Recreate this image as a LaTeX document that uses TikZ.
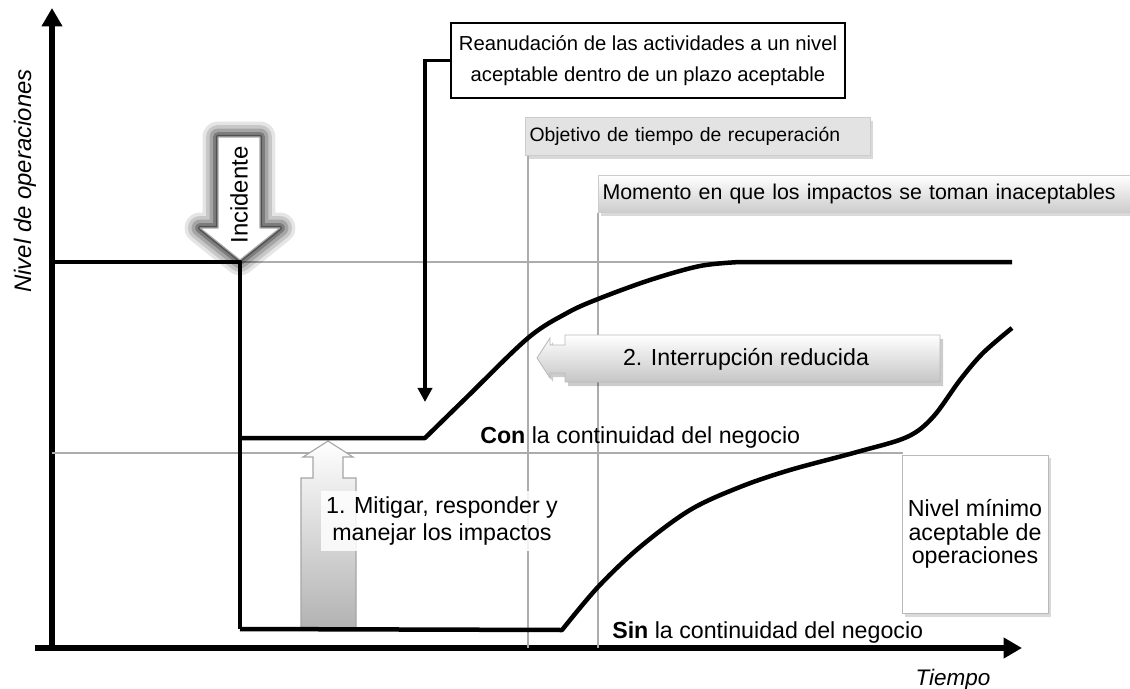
\documentclass[tikz,border=0pt]{standalone}
\usepackage{fontspec}
\setmainfont{Liberation Sans}
\usetikzlibrary{positioning,arrows.meta,calc,shadows}

\begin{document}
\begin{tikzpicture}[
  x=0.025cm, y=-0.025cm,
  axis/.style={line width=4.5pt, -{Triangle[length=13pt,width=14pt]}},
  level/.style={line width=3.2pt, line join=round},
  guide/.style={gray!65, line width=1.3pt},
  lbl/.style={font=\fontsize{16.5}{19}\selectfont, inner sep=0pt},
  softshadow/.style={drop shadow={shadow xshift=2pt, shadow yshift=-2.5pt, opacity=0.3}},
]
  \useasboundingbox (0,0) rectangle (1130,689);

  % --- axes ---
  \coordinate (o) at (52,651);
  \coordinate (ytop) at (52,8);
  \coordinate (xleft) at (35,648);
  \coordinate (xright) at (1022,648);
  \draw[axis] (o) -- (ytop);
  \draw[axis] (xleft) -- (xright);
  \node[lbl, font=\fontsize{17}{19}\selectfont\itshape, rotate=90] (ylab) at (25,181) {Nivel de operaciones};
  \node[lbl, font=\fontsize{16}{19}\selectfont\itshape] (xlab) at (953,680) {Tiempo};

  % --- labels on top ---
  \node[draw, line width=1pt, fill=white, minimum width=9.85cm, minimum height=1.875cm,
        align=center, font=\fontsize{14.4}{22}\selectfont] (reanud) at (648,60.5)
    {Reanudación de las actividades a un nivel\\aceptable dentro de un plazo aceptable};
  \node[anchor=north west, fill=gray!22, draw=gray!40, softshadow, minimum height=0.95cm,
        text width=8.41cm, align=left, inner xsep=3pt, font=\fontsize{13.8}{16}\selectfont] (objetivo) at (525,117)
    {Objetivo de tiempo de recuperación};
  \node[anchor=north west, top color=white, bottom color=gray!40, draw=gray!40, softshadow, minimum height=0.925cm,
        text width=14cm, align=left, inner xsep=3pt, font=\fontsize{15.2}{18}\selectfont] (momento) at (598,175)
    {Momento en que los impactos se toman inaceptables};

  % --- guides ---
  \coordinate (normal) at (240,262);
  \coordinate (normalend) at (1012,262);
  \coordinate (minlevel) at (52,453);
  \draw[guide] (normal) -- (normalend);
  \draw[guide] (minlevel) -- (903,453);
  \draw[guide] (objetivo.south west -| 528,0) -- (528,648);
  \draw[guide] (momento.south west) -- (598,648);

  % --- minimum level box ---
  \node[draw=gray!55, fill=white, softshadow, minimum width=3.65cm, minimum height=3.95cm,
        align=center, font=\fontsize{16.5}{16.5}\selectfont] (minimo) at (975,534)
    {Nivel mínimo\\aceptable de\\operaciones};

  % --- incident ---
  \foreach \w/\op in {22/0.1,17/0.13,12/0.17,7/0.25,3/0.35}
    \draw[line width=\w pt, black, opacity=\op, line join=round]
      (218,137) -- (260,137) -- (260,228) -- (280,228) -- (240,260) -- (200,228) -- (218,228) -- cycle;
  \draw[fill=white, draw=gray!70, line width=0.8pt, line join=round]
    (218,137) -- (260,137) -- (260,228) -- (280,228) -- (240,260) -- (200,228) -- (218,228) -- cycle;
  \node[lbl, font=\fontsize{17}{19}\selectfont, rotate=90] (incid) at (239,195) {Incidente};

  % --- mitigate ---
  \shade[top color=white, middle color=white!85!gray, bottom color=gray!60, draw=gray!70, line width=0.8pt]
    (301,628) -- (301,478) -- (313,478) -- (313,457) -- (303,457) -- (328,441)
    -- (353,457) -- (343,457) -- (343,478) -- (356,478) -- (356,628) -- cycle;
  \node[lbl, align=center, fill=white, fill opacity=0.85, text opacity=1, inner sep=4pt] (mitig) at (442,521)
    {1. Mitigar, responder y\\manejar los impactos};

  % --- reduced interruption ---
  \fill[black, opacity=0.2, shift={(3,4)}]
    (565,335) -- (940,335) -- (940,382) -- (565,382) -- (565,373) -- (550,373) -- (550,378)
    -- (537,358) -- (550,338) -- (550,345) -- (565,345) -- cycle;
  \shade[top color=white, bottom color=gray!45, draw=gray!55, line width=0.6pt]
    (565,335) -- (940,335) -- (940,382) -- (565,382) -- (565,373) -- (550,373) -- (550,378)
    -- (537,358) -- (550,338) -- (550,345) -- (565,345) -- cycle;
  \node[lbl] (interr) at (746,359) {2. Interrupción reducida};

  % --- operation levels ---
  \draw[level] (52,262) -- (normal) -- (240,629);
  \draw[level] (240,438) -- plot[smooth, tension=0.55] coordinates
    {(425,438) (467,397) (528,338) (567,313) (598,299) (650,280) (700,266) (740,262)} -- (normalend);
  \draw[level] (240,629) -- plot[smooth, tension=0.55] coordinates
    {(562,630) (598,587) (640,547) (690,510) (740,487) (790,470) (857,452) (907,437) (933,417) (960,380) (983,353) (1012,328)};
  \node[lbl, anchor=west] (con) at (480,437) {\textbf{Con} la continuidad del negocio};
  \node[lbl, anchor=west] (sin) at (612,632) {\textbf{Sin} la continuidad del negocio};

  % --- resumption pointer ---
  \coordinate (reanudtip) at (425,402);
  \draw[line width=2.8pt, -{Triangle[length=10pt,width=10pt]}] (reanud.west) -| (reanudtip);
\end{tikzpicture}
\end{document}
